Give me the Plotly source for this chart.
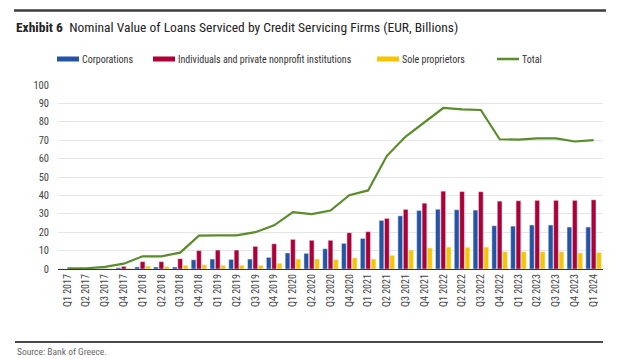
import plotly.graph_objects as go

quarters = ["Q1 2017","Q2 2017","Q3 2017","Q4 2017",
            "Q1 2018","Q2 2018","Q3 2018","Q4 2018",
            "Q1 2019","Q2 2019","Q3 2019","Q4 2019",
            "Q1 2020","Q2 2020","Q3 2020","Q4 2020",
            "Q1 2021","Q2 2021","Q3 2021","Q4 2021",
            "Q1 2022","Q2 2022","Q3 2022","Q4 2022",
            "Q1 2023","Q2 2023","Q3 2023","Q4 2023",
            "Q1 2024"]

corporations = [0.0, 0.0, 0.1, 0.7,
                1.1, 1.1, 1.1, 5.0,
                5.4, 5.2, 5.4, 6.3,
                8.7, 8.5, 11.0, 13.9,
                16.6, 26.4, 28.9, 31.8,
                32.5, 32.2, 32.0, 23.5,
                23.3, 23.9, 23.9, 22.8,
                22.8]

individuals = [0.0, 0.0, 0.2, 1.4,
               4.0, 4.0, 5.6, 10.0,
               10.3, 10.3, 12.3, 13.7,
               16.1, 15.6, 15.6, 19.7,
               20.3, 27.5, 32.4, 35.8,
               42.3, 42.1, 42.0, 36.9,
               37.1, 37.3, 37.3, 37.3,
               37.6]

sole_proprietors = [0.0, 0.0, 0.1, 0.3,
                    1.6, 1.4, 2.0, 2.3,
                    2.0, 2.0, 2.0, 3.1,
                    5.4, 5.4, 5.1, 6.1,
                    5.4, 7.4, 10.3, 11.4,
                    11.9, 11.8, 11.9, 9.4,
                    9.4, 9.4, 9.4, 8.7,
                    9.0]

total = [0.3, 0.3, 1.2, 2.9,
         6.9, 6.9, 8.9, 18.1,
         18.3, 18.3, 20.0, 23.7,
         30.9, 29.8, 31.8, 40.1,
         42.7, 61.5, 72.0, 79.6,
         87.5, 86.8, 86.4, 70.5,
         70.3, 71.0, 71.0, 69.3,
         70.0]

series_names = ["Corporations", "Individuals and private nonprofit institutions",
                "Sole proprietors", "Total"]
y_ticks = [0, 10, 20, 30, 40, 50, 60, 70, 80, 90, 100]

C_BLUE = "#2454a4"
C_RED = "#ad0037"
C_YELLOW = "#f6c500"
C_GREEN = "#5a8c2c"
FONT = "Liberation Sans Narrow, Roboto Condensed, Roboto, sans-serif"

fig = go.Figure()
fig.add_trace(go.Bar(x=quarters, y=corporations, name=series_names[0], marker_color=C_BLUE))
fig.add_trace(go.Bar(x=quarters, y=individuals, name=series_names[1], marker_color=C_RED))
fig.add_trace(go.Bar(x=quarters, y=sole_proprietors, name=series_names[2], marker_color=C_YELLOW))
fig.add_trace(go.Scatter(x=quarters, y=total, name=series_names[3], mode="lines",
                         line=dict(color=C_GREEN, width=2.2)))

# page has an 8px body margin; compensate
OFF = 8
W, H = 624 - OFF, 358 - OFF
ML, MR, MT, MB = 58 - OFF, 21, 85 - OFF, 89
PW = W - ML - MR
PH = H - MT - MB

def px(x):
    return (x - OFF - ML) / PW

def py(y):
    return 1 - (y - OFF - MT) / PH

shapes = []
annotations = []

# top and bottom rules
shapes.append(dict(type="line", xref="paper", yref="paper", layer="above",
                   x0=px(14), x1=px(606), y0=py(10.5), y1=py(10.5),
                   line=dict(color="#3c3c3c", width=2.5)))
shapes.append(dict(type="line", xref="paper", yref="paper", layer="above",
                   x0=px(15), x1=px(603), y0=py(342), y1=py(342),
                   line=dict(color="#4a4a4a", width=1.8)))

# title
annotations.append(dict(xref="paper", yref="paper", x=px(14), y=py(27), xanchor="left",
                        yanchor="middle", showarrow=False,
                        text="<b>Exhibit 6</b>  Nominal Value of Loans Serviced by Credit Servicing Firms (EUR, Billions)",
                        font=dict(family=FONT, size=13.5, color="#222222")))
# source
annotations.append(dict(xref="paper", yref="paper", x=px(15), y=py(351), xanchor="left",
                        yanchor="middle", showarrow=False, text="Source: Bank of Greece.",
                        font=dict(family=FONT, size=9.5, color="#666666")))

# manual legend
legend_items = [(57, C_BLUE, "bar"), (153, C_RED, "bar"), (377, C_YELLOW, "bar"), (497, C_GREEN, "line")]
for (x0, col, kind), name in zip(legend_items, series_names):
    if kind == "bar":
        shapes.append(dict(type="rect", xref="paper", yref="paper", x0=px(x0), x1=px(x0 + 22),
                           y0=py(61.5), y1=py(56.5), fillcolor=col, line=dict(width=0)))
    else:
        shapes.append(dict(type="line", xref="paper", yref="paper", x0=px(x0), x1=px(x0 + 22),
                           y0=py(59), y1=py(59), line=dict(color=col, width=2.5)))
    annotations.append(dict(xref="paper", yref="paper", x=px(x0 + 23), y=py(59), xanchor="left",
                            yanchor="middle", showarrow=False, text=name,
                            font=dict(family=FONT, size=10, color="#333333")))

fig.update_layout(
    width=W, height=H,
    margin=dict(l=ML, r=MR, t=MT, b=MB),
    paper_bgcolor="white", plot_bgcolor="white",
    showlegend=False,
    barmode="group", bargap=0.14, bargroupgap=0.12,
    font=dict(family=FONT, size=10, color="#444444"),
    shapes=shapes, annotations=annotations,
)
fig.update_xaxes(type="category", tickangle=-90, showgrid=False, showline=True,
                 linecolor="#333333", linewidth=1.2, ticks="", tickfont=dict(size=10, color="#444444"),
                 range=[-0.5, len(quarters) - 0.5])
fig.update_yaxes(range=[0, 100], tickvals=y_ticks, showgrid=True, gridcolor="#e6e6e6",
                 gridwidth=1, zeroline=False, showline=False, ticks="",
                 tickfont=dict(size=10.5, color="#444444"), ticklabelstandoff=8)

fig.write_html("out.html")
